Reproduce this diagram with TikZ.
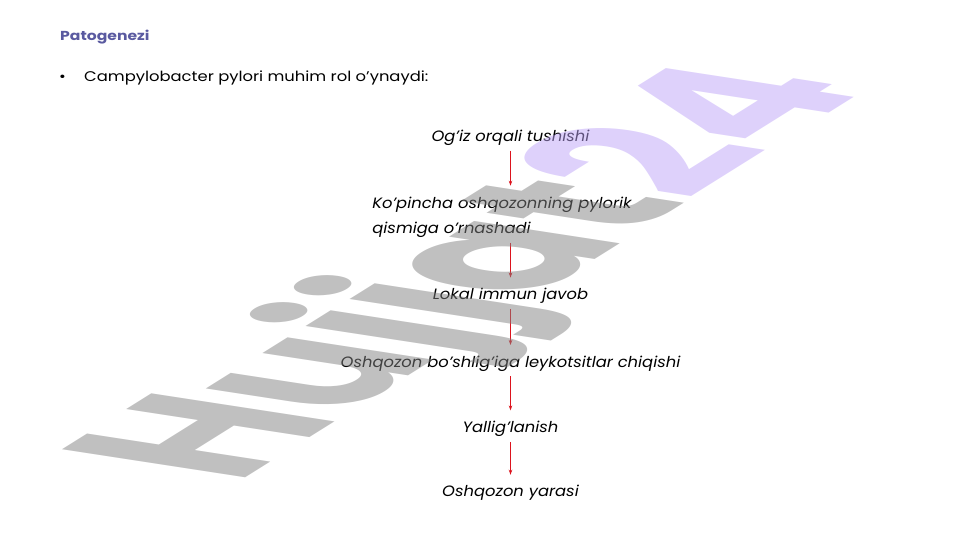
\documentclass[tikz,border=0pt]{standalone}
\usepackage{fontspec}
\setmainfont{Poppins}[UprightFeatures={FakeStretch=1.17}, ItalicFeatures={FakeStretch=1.09}, BoldFeatures={FakeStretch=1.2}]
\newfontfamily\belgishrift{Poppins}
\usepackage{xcolor}
\usetikzlibrary{positioning, arrows.meta}

\definecolor{sarlavha}{RGB}{90,90,160}
\definecolor{strelka}{RGB}{220,20,30}
\definecolor{wmkul}{RGB}{129,129,129}
\definecolor{wmbinafsha}{RGB}{189,163,247}

\tikzset{
  bosqich/.style={font=\fontsize{15}{25}\selectfont\itshape, inner sep=0pt, text height=11pt, text depth=4pt},
  oqim/.style={draw=strelka, line width=1pt, -{Stealth[length=5pt,width=3.5pt]}, shorten <=5pt, shorten >=11pt}
}

\begin{document}
\begin{tikzpicture}[x=1pt, y=-1pt]
                \useasboundingbox (0,0) rectangle (960,540);
                \node[anchor=base west, inner sep=0pt, font=\fontsize{13}{15}\selectfont\bfseries, text=sarlavha] (sarlavha) at (60,41) {Patogenezi};
                \node[anchor=base west, inner sep=0pt, font=\fontsize{14}{16}\selectfont] (nuqta) at (59,81.5) {•};
                \node[anchor=base west, inner sep=0pt, font=\fontsize{14}{16}\selectfont] (matn) at (84,81.5) {Campylobacter pylori muhim rol o’ynaydi:};
                \node[bosqich, anchor=base] (ogiz) at (510.5,141.5) {Og'iz orqali tushishi};
                \node[font=\fontsize{15}{25}\selectfont\itshape, inner sep=0pt, align=left, below=51pt of ogiz, xshift=-8.5pt] (pilorik) {Ko'pincha oshqozonning pylorik\\qismiga o'rnashadi};
                \node[bosqich, below=51pt of pilorik, xshift=8.5pt] (immun) {Lokal immun javob};
                \node[bosqich, below=52pt of immun] (leyko) {Oshqozon bo'shlig'iga leykotsitlar chiqishi};
                \node[bosqich, below=50pt of leyko] (yallig) {Yallig'lanish};
                \node[bosqich, below=49pt of yallig] (yara) {Oshqozon yarasi};
                \draw[oqim] (ogiz.south) -- (ogiz.south |- pilorik.north);
                \draw[oqim] (ogiz.south |- pilorik.south) -- (immun.north);
                \draw[oqim] (immun) -- (leyko);
                \draw[oqim] (leyko) -- (yallig);
                \draw[oqim] (yallig) -- (yara);
                % suv belgisi
                \node[cm={1.47,0.92,-2.61,0.40,(236,484)}, transform shape, anchor=base west, inner sep=0pt, opacity=0.5, font=\fontsize{100}{100}\selectfont\belgishrift\bfseries] (belgi) at (0,0) {\color{wmkul}Hujjat\color{wmbinafsha}24};
            \end{tikzpicture}
\end{document}
